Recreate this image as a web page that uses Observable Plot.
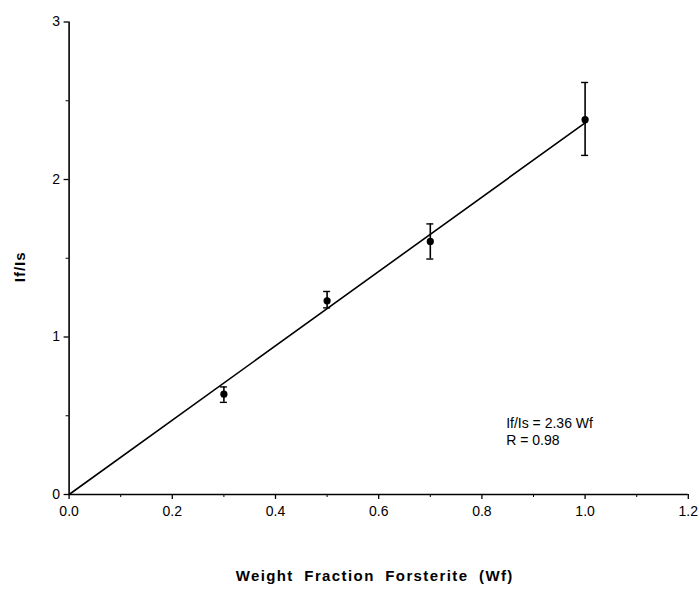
<!DOCTYPE html>
<html>
<head>
<meta charset="utf-8">
<script src="https://cdn.jsdelivr.net/npm/d3@7"></script>
<script src="https://cdn.jsdelivr.net/npm/@observablehq/plot@0.6"></script>
<style>
  body { margin: 0; background: #fff; }
  #chart svg { font-family: "Liberation Sans", Arial, sans-serif; }
</style>
</head>
<body>
<div id="chart"></div>
<script>
// Data
const wf = [0.3, 0.5, 0.7, 1.0];
const ratio = [0.637, 1.23, 1.607, 2.38];
const errLow = [0.585, 1.185, 1.495, 2.153];
const errHigh = [0.683, 1.289, 1.718, 2.616];
const slope = 2.36;
const fitX = [0.0, 1.0];
const xTicks = [0.0, 0.2, 0.4, 0.6, 0.8, 1.0, 1.2];
const xMinor = [0.1, 0.3, 0.5, 0.7, 0.9, 1.1];
const yTicks = [0, 1, 2, 3];
const yMinor = [0.5, 1.5, 2.5];
const annotation = ["If/Is = 2.36 Wf", "R = 0.98"];
const annotX = 0.847;
const annotY = [0.452, 0.344];
const xTitle = "Weight Fraction Forsterite (Wf)";
const yTitle = "If/Is";

const points = wf.map((x, i) => ({x, y: ratio[i], lo: errLow[i], hi: errHigh[i]}));
const fit = fitX.map(x => ({x, y: slope * x}));
const capW = 0.0068;

const chart = Plot.plot({
  width: 698,
  height: 589,
  marginLeft: 68.6,
  marginRight: 10.2,
  marginTop: 21.5,
  marginBottom: 95,
  x: {domain: [0, 1.2], label: null},
  y: {domain: [0, 3], label: null},
  style: {fontSize: "14px", fontFamily: "Liberation Sans, Arial, sans-serif", color: "#000", background: "#fff"},
  marks: [
    Plot.ruleX([0], {strokeWidth: 1.6}),
    Plot.ruleY([0], {strokeWidth: 1.6}),
    Plot.axisX(xTicks, {tickSize: 5, tickPadding: 7, tickFormat: d3.format(".1f"), fontSize: 14, strokeWidth: 1.3}),
    Plot.axisX(xMinor, {tickSize: 3, text: null, strokeWidth: 1}),
    Plot.axisY(yTicks, {tickSize: 5, tickPadding: 4, tickFormat: d3.format("d"), fontSize: 14, strokeWidth: 1.3}),
    Plot.axisY(yMinor, {tickSize: 3, text: null, strokeWidth: 1}),
    Plot.line(fit, {x: "x", y: "y", strokeWidth: 1.6, stroke: "#000"}),
    Plot.ruleX(points, {x: "x", y1: "lo", y2: "hi", strokeWidth: 1.6}),
    Plot.ruleY(points, {y: "hi", x1: d => d.x - capW, x2: d => d.x + capW, strokeWidth: 1.4}),
    Plot.ruleY(points, {y: "lo", x1: d => d.x - capW, x2: d => d.x + capW, strokeWidth: 1.4}),
    Plot.dot(points, {x: "x", y: "y", r: 3.6, fill: "#000", stroke: "none"}),
    Plot.text(annotation, {x: annotX, y: (d, i) => annotY[i], text: d => d, textAnchor: "start", fontSize: 14}),
    Plot.text([xTitle], {frameAnchor: "bottom", dy: 86, dx: -4, text: d => d, fontWeight: "bold", fontSize: 15}),
    Plot.text([yTitle], {frameAnchor: "left", dx: -49, dy: 24, rotate: -90, text: d => d, fontWeight: "bold", fontSize: 15})
  ]
});
d3.select(chart).selectAll("text")
  .filter(function() { return this.textContent === xTitle; })
  .attr("letter-spacing", "1.4px").attr("word-spacing", "5px");
d3.select(chart).selectAll("text")
  .filter(function() { return this.textContent === yTitle; })
  .attr("letter-spacing", "1px");
document.getElementById("chart").appendChild(chart);
</script>
</body>
</html>
